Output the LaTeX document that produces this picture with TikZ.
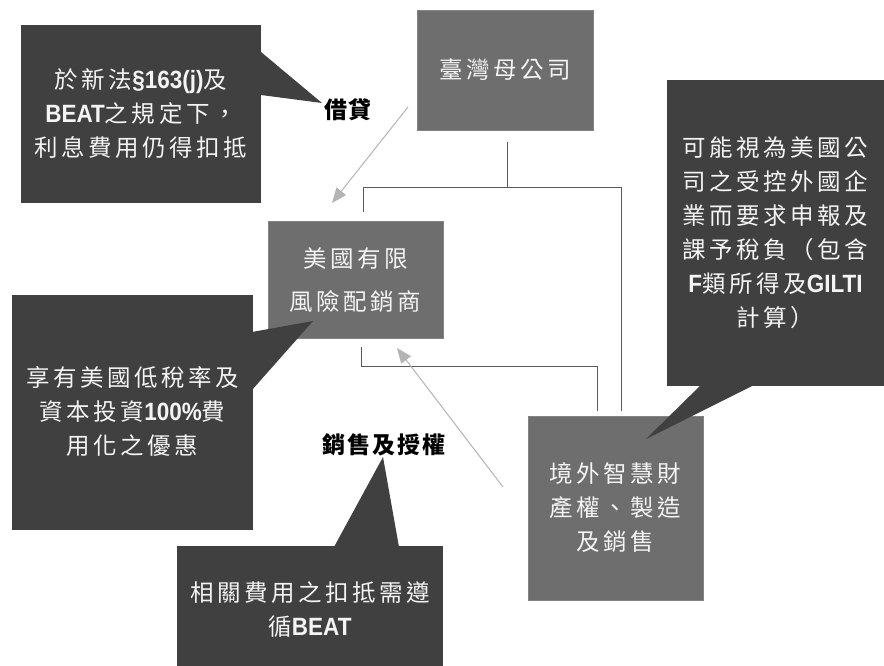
\documentclass[tikz,border=0pt]{standalone}
\usepackage{fontspec}
\setmainfont{Liberation Sans}
\newfontfamily\cjk{Noto Sans CJK TC}[LetterSpace=15]
\newfontfamily\cjklabel{Noto Sans CJK TC}[LetterSpace=8]
\newfontfamily\latfont{Liberation Sans}[FakeStretch=0.9]
\newcommand\lt[1]{{\latfont\bfseries\fontsize{25}{34}\selectfont #1}}
\usetikzlibrary{arrows.meta}
\definecolor{boxgray}{HTML}{6E6E6E}
\definecolor{callgray}{HTML}{404040}
\definecolor{linegray}{HTML}{5A5A5A}
\definecolor{arrowgray}{HTML}{B4B4B4}
\definecolor{txtwhite}{HTML}{F4F4F4}
\tikzset{
  boxnode/.style={rectangle, fill=boxgray, draw=boxgray!85!white, line width=0.6pt, inner sep=0pt,
    text=txtwhite, align=center, font={\cjk\fontsize{23.5}{34}\selectfont}},
  callout/.style={rectangle, fill=callgray, draw=none, inner sep=0pt,
    text=txtwhite, align=center, font={\cjk\fontsize{23.5}{34}\selectfont}},
  pointer/.style={fill=callgray},
  bracket/.style={draw=linegray, line width=1pt},
  flow/.style={draw=arrowgray, line width=1pt, -{Triangle[length=15pt,width=12pt]}},
  tag/.style={inner sep=0pt, text=black, font={\cjklabel\bfseries\fontsize{23}{26}\selectfont}}
}
\begin{document}
\begin{tikzpicture}[x=1pt,y=-1pt]
\useasboundingbox (0,0) rectangle (884,666);
\fill[white] (0,0) rectangle (884,666);

% brackets
\coordinate (b1a) at (363,212);
\coordinate (b1b) at (363,188);
\coordinate (b1c) at (621,188);
\coordinate (b1d) at (621,411);
\coordinate (b1e) at (507,142);
\coordinate (b1f) at (507,188);
\draw[bracket] (b1a) -- (b1b) -- (b1c) -- (b1d);
\draw[bracket] (b1e) -- (b1f);
\coordinate (b2a) at (361,347);
\coordinate (b2b) at (361,366);
\coordinate (b2c) at (597,366);
\coordinate (b2d) at (597,411);
\draw[bracket] (b2a) -- (b2b) -- (b2c) -- (b2d);

% arrows
\coordinate (a1s) at (408,107);
\coordinate (a1e) at (332,203);
\draw[flow] (a1s) -- (a1e);
\coordinate (a2s) at (503,487);
\coordinate (a2e) at (397,348);
\draw[flow] (a2s) -- (a2e);

% boxes
\node[boxnode, minimum width=176pt, minimum height=120pt] (tw) at (505,70) {臺灣母公司};
\node[boxnode, minimum width=175pt, minimum height=117pt, font={\cjk\fontsize{23.5}{43}\selectfont}] (us) at (355.5,280) {美國有限\\風險配銷商};
\node[boxnode, minimum width=175pt, minimum height=184pt] (ip) at (615.5,508) {境外智慧財\\產權、製造\\及銷售};

% callouts
\node[callout, minimum width=240pt, minimum height=178pt] (c1) at (141,114)
  {於新法\lt{§163(j)}及\\\lt{BEAT}之規定下，\\利息費用仍得扣抵};
\fill[pointer] (261,52) -- (322,103) -- (261,95) -- cycle;

\node[callout, minimum width=241pt, minimum height=235pt] (c2) at (132.5,412)
  {享有美國低稅率及\\資本投資\lt{100\%}費\\用化之優惠};
\fill[pointer] (252,332) -- (313,321) -- (252,390) -- cycle;

\node[callout, minimum width=217pt, minimum height=305pt] (c3) at (775.5,233)
  {可能視為美國公\\司之受控外國企\\業而要求申報及\\課予稅負（包含\\\lt{F}類所得及\lt{GILTI}\\計算）};
\fill[pointer] (705,381) -- (646,439) -- (762,381) -- cycle;

\node[callout, minimum width=266pt, minimum height=128pt] (c4) at (310,610)
  {相關費用之扣抵需遵\\循\lt{BEAT}};
\fill[pointer] (334,547) -- (383,457) -- (399,547) -- cycle;

% labels
\node[tag] (loan) at (348,110) {借貸};
\node[tag] (sale) at (384,445) {銷售及授權};
\end{tikzpicture}
\end{document}
